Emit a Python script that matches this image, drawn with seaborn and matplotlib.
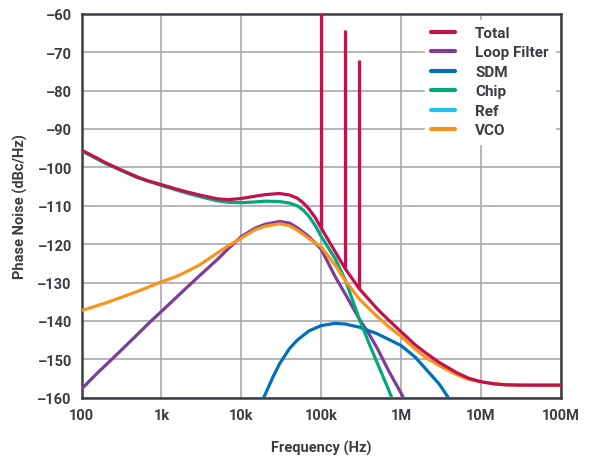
import numpy as np
import pandas as pd
import matplotlib
matplotlib.use("Agg")
import matplotlib.pyplot as plt
import seaborn as sns
from matplotlib.lines import Line2D

# Values (frequency in Hz, phase noise in dBc/Hz)
total_freq = [100, 150, 200, 300, 500, 700, 1e3, 1.5e3, 2e3, 3e3, 5e3, 7e3, 1e4, 1.5e4, 2e4, 3e4,
              4e4, 5e4, 6e4, 7e4, 8.5e4, 1e5, 1.5e5, 2e5, 3e5, 5e5, 7e5, 1e6, 1.5e6, 2e6, 3e6, 4e6,
              5e6, 7e6, 1e7, 1.5e7, 2e7, 3e7, 5e7, 1e8]
total_db = [-95.5, -97.4, -98.8, -100.5, -102.5, -103.6, -104.5, -105.6, -106.3, -107.2, -108.2,
            -108.4, -108.1, -107.5, -107.1, -106.8, -107.2, -108.0, -109.3, -110.8, -113.2, -115.8,
            -122.0, -126.4, -131.6, -136.8, -139.8, -142.8, -146.2, -148.2, -150.8, -152.3,
            -153.5, -154.9, -155.8, -156.4, -156.6, -156.7, -156.7, -156.7]

spur_freq = [1e5, 2e5, 3e5]
spur_base = [-115.8, -126.4, -131.6]
spur_top = [-55.0, -64.3, -72.0]

loop_freq = [100, 150, 200, 300, 500, 700, 1e3, 2e3, 3e3, 5e3, 7e3, 1e4, 1.5e4, 2e4, 3e4, 4e4,
             5e4, 7e4, 1e5, 1.5e5, 2e5, 3e5, 4e5, 5e5, 7e5, 1e6, 1.1e6]
loop_db = [-157.7, -154.0, -151.5, -148.0, -143.5, -140.5, -137.5, -131.6, -128.2, -124.0, -121.0,
           -118.0, -115.8, -114.8, -114.1, -114.5, -115.7, -118.0, -121.3, -128.5, -133.0, -139.5,
           -143.5, -147.0, -153.0, -158.8, -160.5]

sdm_freq = [1.85e4, 2e4, 2.5e4, 3e4, 4e4, 5e4, 7e4, 1e5, 1.5e5, 2e5, 3e5, 5e5, 7e5, 1e6, 1.5e6,
            2e6, 3e6, 4e6]
sdm_db = [-160.5, -159.0, -154.5, -151.2, -147.2, -145.0, -142.6, -141.2, -140.6, -140.8, -141.6,
          -143.3, -144.8, -146.4, -149.4, -152.3, -156.4, -160.3]

chip_freq = [100, 200, 500, 1e3, 2e3, 3e3, 5e3, 7e3, 1e4, 1.5e4, 2e4, 3e4, 4e4, 5e4, 6e4, 7e4,
             8.5e4, 1e5, 1.5e5, 2e5, 3e5, 4e5, 5e5, 6e5, 7e5, 8e5]
chip_db = [-95.7, -99.0, -102.7, -104.7, -106.6, -107.6, -108.7, -109.1, -109.2, -109.0, -108.8,
           -108.9, -109.3, -110.0, -111.2, -112.7, -115.3, -118.0, -123.8, -129.3, -139.5, -146.0,
           -150.8, -154.7, -158.0, -161.0]

vco_freq = [100, 200, 300, 500, 700, 1e3, 1.5e3, 2e3, 3e3, 5e3, 7e3, 1e4, 1.5e4, 2e4, 3e4, 4e4,
            5e4, 7e4, 1e5, 1.5e5, 2e5, 3e5, 5e5, 7e5, 1e6, 1.5e6, 2e6, 3e6, 4e6, 5e6, 7e6, 1e7,
            2e7, 5e7, 1e8]
vco_db = [-137.3, -135.3, -134.0, -132.3, -131.1, -129.8, -128.5, -127.3, -125.4, -122.3, -120.3,
          -118.4, -116.2, -115.3, -114.7, -115.2, -116.3, -118.5, -120.7, -125.5, -129.5, -134.3,
          -138.8, -141.5, -144.0, -147.3, -149.4, -151.6, -153.0, -154.0, -155.2, -155.9,
          -156.6, -156.7, -156.7]

x_ticks = [1e2, 1e3, 1e4, 1e5, 1e6, 1e7, 1e8]
x_tick_labels = ["100", "1k", "10k", "100k", "1M", "10M", "100M"]
y_ticks = [-60, -70, -80, -90, -100, -110, -120, -130, -140, -150, -160]

colors = {
    "Total": "#C0134E",
    "Loop Filter": "#7D3C98",
    "SDM": "#0070B8",
    "Chip": "#00A97A",
    "Ref": "#22C0EE",
    "VCO": "#F7941D",
}

sns.set_style("white")
plt.rcParams["font.family"] = ["Roboto", "DejaVu Sans"]
text_color = "#3a3d44"

fig = plt.figure(figsize=(5.91, 4.60), dpi=100)
ax = fig.add_axes([0.138, 0.133, 0.811, 0.835])

lw = 2.3
sns.lineplot(x=loop_freq, y=loop_db, color=colors["Loop Filter"], lw=lw, ax=ax, zorder=3)
sns.lineplot(x=sdm_freq, y=sdm_db, color=colors["SDM"], lw=lw, ax=ax, zorder=3)
sns.lineplot(x=chip_freq, y=chip_db, color=colors["Chip"], lw=lw, ax=ax, zorder=4)
sns.lineplot(x=vco_freq, y=vco_db, color=colors["VCO"], lw=lw, ax=ax, zorder=5)
sns.lineplot(x=total_freq, y=total_db, color=colors["Total"], lw=lw, ax=ax, zorder=6)
ax.vlines(spur_freq, spur_base, spur_top, color=colors["Total"], lw=lw, zorder=6)

ax.set_xscale("log")
ax.set_xlim(1e2, 1e8)
ax.set_ylim(-160, -60)
ax.set_xticks(x_ticks)
ax.set_xticklabels(x_tick_labels)
ax.set_yticks(y_ticks)
ax.set_yticklabels([f"\u2013{abs(v)}" for v in y_ticks])
ax.minorticks_off()
ax.tick_params(length=0, pad=7, labelsize=10.5, labelcolor=text_color)
for lab in ax.get_xticklabels() + ax.get_yticklabels():
    lab.set_fontweight("bold")

ax.grid(True, color="#a9a9ae", lw=1.2)
ax.set_axisbelow(True)
for s in ax.spines.values():
    s.set_color(text_color)
    s.set_linewidth(1.8)

ax.set_xlabel("Frequency (Hz)", fontsize=10.5, fontweight="bold", color=text_color)
ax.set_ylabel("Phase Noise (dBc/Hz)", fontsize=10.5, fontweight="bold", color=text_color)
ax.xaxis.set_label_coords(0.5, -0.109)
ax.yaxis.set_label_coords(-0.112, 0.5)

handles = [Line2D([], [], color=c, lw=3) for c in colors.values()]
leg = ax.legend(handles, list(colors.keys()), loc="upper right", fontsize=11,
                handlelength=1.6, handletextpad=1.3, labelspacing=0.36,
                borderaxespad=0.4, frameon=True, fancybox=False, framealpha=1,
                facecolor="white", edgecolor="white")
leg.set_zorder(10)
for t in leg.get_texts():
    t.set_fontweight("bold")
    t.set_color(text_color)

fig.savefig("out.png", dpi=100)
plt.close(fig)
